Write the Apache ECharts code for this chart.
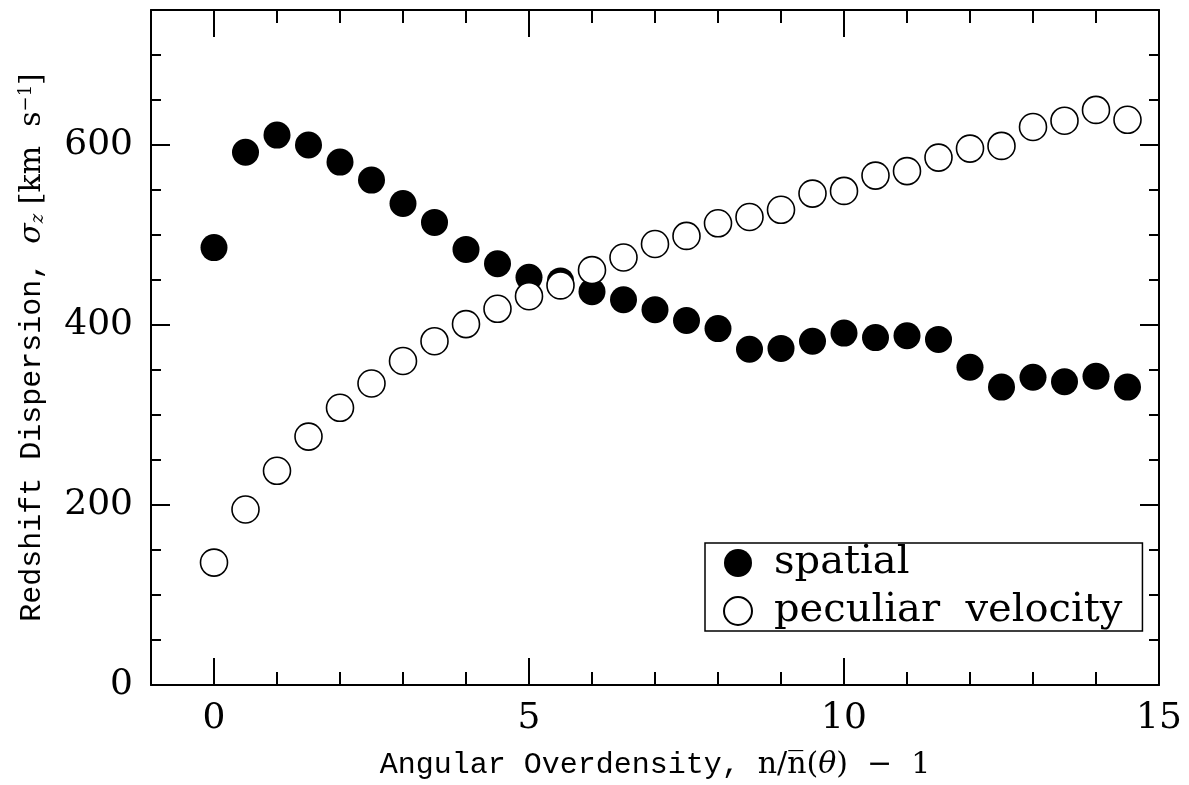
<!DOCTYPE html>
<html>
<head>
<meta charset="UTF-8">
<title>Redshift Dispersion vs Angular Overdensity</title>
<script src="https://cdn.jsdelivr.net/npm/echarts@6/dist/echarts.min.js"></script>
<style>
  html, body { margin: 0; padding: 0; background: #fff; }
  #box { width: 1189px; height: 785px; }
</style>
</head>
<body>
<div id="box"></div>
<script>
// data
var overdensity = [0, 0.5, 1, 1.5, 2, 2.5, 3, 3.5, 4, 4.5, 5, 5.5, 6, 6.5, 7, 7.5,
                   8, 8.5, 9, 9.5, 10, 10.5, 11, 11.5, 12, 12.5, 13, 13.5, 14, 14.5];
var spatial = [486, 592, 611, 600, 581, 561, 535, 514, 484, 468, 453, 449, 437, 428, 417, 405,
               396, 373, 374, 382, 391, 386, 388, 384, 353, 331, 342, 337, 343, 331];
var peculiar = [136, 195, 238, 276, 308, 335, 360, 382, 401, 418, 432, 444, 461, 475, 490, 499,
                513, 520, 528, 546, 549, 566, 571, 586, 596, 599, 620, 627, 639, 628];

// tick positions
var xMajor = [0, 5, 10, 15];
var xMinor = [1, 2, 3, 4, 6, 7, 8, 9, 11, 12, 13, 14];
var yMajor = [0, 200, 400, 600];
var yMinor = [50, 100, 150, 250, 300, 350, 450, 500, 550, 650, 700];

function pairs(ys) {
    return overdensity.map(function (x, i) { return [x, ys[i]]; });
}

var serif = 'DejaVu Serif';
var mono = 'Liberation Mono';

function xAx(pos, ticks, len, withLine, withLabel) {
    return {
        type: 'value', position: pos, min: -1, max: 15,
        axisLine: { show: withLine, onZero: false, lineStyle: { color: '#000', width: 2 } },
        axisTick: { show: true, inside: true, length: len, customValues: ticks,
                    lineStyle: { color: '#000', width: 2 } },
        axisLabel: { show: withLabel, customValues: ticks, margin: 16,
                     fontFamily: serif, fontSize: 36, color: '#000' },
        splitLine: { show: false }
    };
}
function yAx(pos, ticks, len, withLine, withLabel) {
    return {
        type: 'value', position: pos, min: 0, max: 750,
        axisLine: { show: withLine, onZero: false, lineStyle: { color: '#000', width: 2 } },
        axisTick: { show: true, inside: true, length: len, customValues: ticks,
                    lineStyle: { color: '#000', width: 2 } },
        axisLabel: { show: withLabel, customValues: ticks, margin: 18,
                     fontFamily: serif, fontSize: 36, color: '#000' },
        splitLine: { show: false }
    };
}

var xAxes = [
    xAx('bottom', xMajor, 27, true, true),
    xAx('bottom', xMinor, 13, false, false),
    xAx('top', xMajor, 27, true, false),
    xAx('top', xMinor, 13, false, false)
];
xAxes[0].name = '{t|Angular Overdensity, }{r|n/n\u0305(}{i|\u03b8}{r|)  \u2212  1}';
xAxes[0].nameLocation = 'middle';
xAxes[0].nameGap = 65;
xAxes[0].nameTextStyle = {
    rich: {
        t: { fontFamily: mono, fontSize: 30, color: '#000' },
        r: { fontFamily: serif, fontSize: 30, color: '#000' },
        i: { fontFamily: serif, fontStyle: 'italic', fontSize: 30, color: '#000' }
    }
};

var yAxes = [
    yAx('left', yMajor, 19, true, true),
    yAx('left', yMinor, 10, false, false),
    yAx('right', yMajor, 19, true, false),
    yAx('right', yMinor, 10, false, false)
];
yAxes[0].name = '{t|Redshift Dispersion, }{i|\u03c3}{sub|z}{r| [km  s}{sup|\u22121}{r|]}';
yAxes[0].nameLocation = 'middle';
yAxes[0].nameGap = 104;
yAxes[0].nameTextStyle = {
    rich: {
        t: { fontFamily: mono, fontSize: 30, color: '#000' },
        r: { fontFamily: serif, fontSize: 30, color: '#000' },
        i: { fontFamily: serif, fontStyle: 'italic', fontSize: 30, color: '#000' },
        sub: { fontFamily: serif, fontStyle: 'italic', fontSize: 18, color: '#000', verticalAlign: 'bottom' },
        sup: { fontFamily: serif, fontSize: 18, color: '#000', verticalAlign: 'top' }
    }
};

var myChart = echarts.init(document.getElementById('box'));
var option = {
    animation: false,
    backgroundColor: '#fff',
    grid: { left: 151, right: 30, top: 10, bottom: 99, containLabel: false },
    xAxis: xAxes,
    yAxis: yAxes,
    legend: {
        data: ['spatial', 'peculiar velocity'],
        formatter: function (name) { return name.replace(' ', '  '); },
        orient: 'vertical',
        left: 705, top: 543,
        borderColor: '#000', borderWidth: 1.5, borderRadius: 0,
        padding: [0, 20, 0, 18],
        itemWidth: 28, itemHeight: 28, itemGap: 8,
        textStyle: { fontFamily: serif, fontSize: 40, color: '#000',
                     padding: [0, 0, 0, 17] }
    },
    series: [{
        name: 'spatial',
        type: 'scatter',
        xAxisIndex: 0, yAxisIndex: 0,
        symbol: 'circle', symbolSize: 27,
        itemStyle: { color: '#000', opacity: 1 },
        data: pairs(spatial)
    }, {
        name: 'peculiar velocity',
        type: 'scatter',
        xAxisIndex: 0, yAxisIndex: 0,
        symbol: 'circle', symbolSize: 27,
        itemStyle: { color: '#fff', borderColor: '#000', borderWidth: 1.6, opacity: 1 },
        data: pairs(peculiar)
    }]
};
myChart.setOption(option);
</script>
</body>
</html>
